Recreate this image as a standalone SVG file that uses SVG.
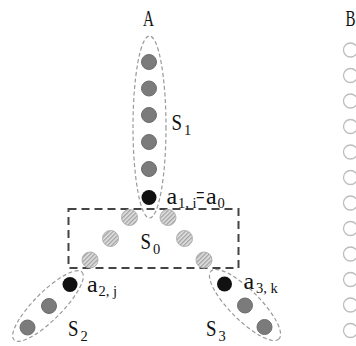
<svg xmlns="http://www.w3.org/2000/svg" width="356" height="346" viewBox="0 0 356 346">
  <defs>
    <pattern id="hatch" width="3" height="3" patternUnits="userSpaceOnUse" patternTransform="rotate(45)">
      <rect width="3" height="3" fill="#e2e2e2"/>
      <line x1="0.75" y1="0" x2="0.75" y2="3" stroke="#8c8c8c" stroke-width="1"/>
    </pattern>
  </defs>
  <style>
    .lbl { font-family: "Liberation Serif", "DejaVu Serif", serif; font-size: 24px; fill: #111; }
    .sub { font-family: "Liberation Serif", "DejaVu Serif", serif; font-size: 14.5px; fill: #111; }
    .grp { fill: none; stroke: #9a9a9a; stroke-width: 1.2; stroke-dasharray: 4 2.5; }
    .core { fill: none; stroke: #444; stroke-width: 2; stroke-dasharray: 8 5; }
    .gray { fill: #7b7b7b; stroke: #6c6c6c; stroke-width: 1; }
    .dark { fill: #111; }
    .hat { fill: url(#hatch); stroke: #b0b0b0; stroke-width: 1; }
    .ring { fill: #fff; stroke: #bdbdbd; stroke-width: 1.3; }
  </style>

  <!-- column headings -->
  <text class="lbl" x="143" y="26" textLength="11" lengthAdjust="spacingAndGlyphs">A</text>
  <text class="lbl" x="345.5" y="26" textLength="10" lengthAdjust="spacingAndGlyphs">B</text>

  <!-- group outlines -->
  <g id="outlines">
    <ellipse class="grp" cx="149.5" cy="127" rx="16.5" ry="91"/>
    <ellipse class="grp" cx="48" cy="306" rx="48" ry="14" transform="rotate(-45 48 306)"/>
    <ellipse class="grp" cx="245" cy="305" rx="48" ry="15" transform="rotate(45 245 305)"/>
    <rect class="core" x="68.5" y="209" width="170" height="59"/>
  </g>

  <!-- branch S1 -->
  <g id="S1">
    <circle class="gray" cx="149" cy="62" r="7.5"/>
    <circle class="gray" cx="149" cy="88.5" r="7.5"/>
    <circle class="gray" cx="149" cy="115" r="7.5"/>
    <circle class="gray" cx="149" cy="142" r="7.5"/>
    <circle class="gray" cx="149" cy="169" r="7.5"/>
    <text class="lbl" x="171.5" y="130" textLength="10.5" lengthAdjust="spacingAndGlyphs">S</text>
    <text class="sub" x="184" y="135">1</text>
  </g>
  <g id="a1">
    <circle class="dark" cx="149" cy="197.5" r="7.5"/>
    <text class="lbl" x="166.5" y="204">a</text>
    <text class="sub" x="178" y="208">1, i</text>
    <text class="lbl" x="196" y="203" textLength="8.5" lengthAdjust="spacingAndGlyphs">=</text>
    <text class="lbl" x="206" y="204">a</text>
    <text class="sub" x="217.5" y="208">0</text>
  </g>

  <!-- core S0 -->
  <g id="S0">
    <circle class="hat" cx="129.5" cy="217.5" r="8"/>
    <circle class="hat" cx="168" cy="217.5" r="8"/>
    <circle class="hat" cx="110.5" cy="238.5" r="8"/>
    <circle class="hat" cx="184.5" cy="238.5" r="8"/>
    <circle class="hat" cx="90" cy="260" r="8"/>
    <circle class="hat" cx="204" cy="260" r="8"/>
    <text class="lbl" x="140.5" y="249" textLength="10.5" lengthAdjust="spacingAndGlyphs">S</text>
    <text class="sub" x="153" y="254">0</text>
  </g>

  <!-- branch S2 -->
  <g id="S2">
    <circle class="dark" cx="70" cy="284.5" r="7.5"/>
    <circle class="gray" cx="49" cy="306" r="7.5"/>
    <circle class="gray" cx="27.5" cy="327.5" r="7.5"/>
    <text class="lbl" x="87" y="292">a</text>
    <text class="sub" x="98.5" y="296">2, j</text>
    <text class="lbl" x="68" y="336" textLength="10.5" lengthAdjust="spacingAndGlyphs">S</text>
    <text class="sub" x="80.5" y="341">2</text>
  </g>

  <!-- branch S3 -->
  <g id="S3">
    <circle class="dark" cx="224.5" cy="284" r="7.5"/>
    <circle class="gray" cx="245" cy="305.5" r="7.5"/>
    <circle class="gray" cx="264.5" cy="327" r="7.5"/>
    <text class="lbl" x="243.5" y="289">a</text>
    <text class="sub" x="256" y="293">3, k</text>
    <text class="lbl" x="206" y="336" textLength="10.5" lengthAdjust="spacingAndGlyphs">S</text>
    <text class="sub" x="218.5" y="341">3</text>
  </g>

  <!-- column B -->
  <g id="B">
    <circle class="ring" cx="350.5" cy="50" r="7"/>
    <circle class="ring" cx="350.5" cy="75.5" r="7"/>
    <circle class="ring" cx="350.5" cy="101" r="7"/>
    <circle class="ring" cx="350.5" cy="126.5" r="7"/>
    <circle class="ring" cx="350.5" cy="152" r="7"/>
    <circle class="ring" cx="350.5" cy="177.5" r="7"/>
    <circle class="ring" cx="350.5" cy="203" r="7"/>
    <circle class="ring" cx="350.5" cy="228.5" r="7"/>
    <circle class="ring" cx="350.5" cy="254" r="7"/>
    <circle class="ring" cx="350.5" cy="279.5" r="7"/>
    <circle class="ring" cx="350.5" cy="305" r="7"/>
    <circle class="ring" cx="350.5" cy="330.5" r="7"/>
  </g>
</svg>
